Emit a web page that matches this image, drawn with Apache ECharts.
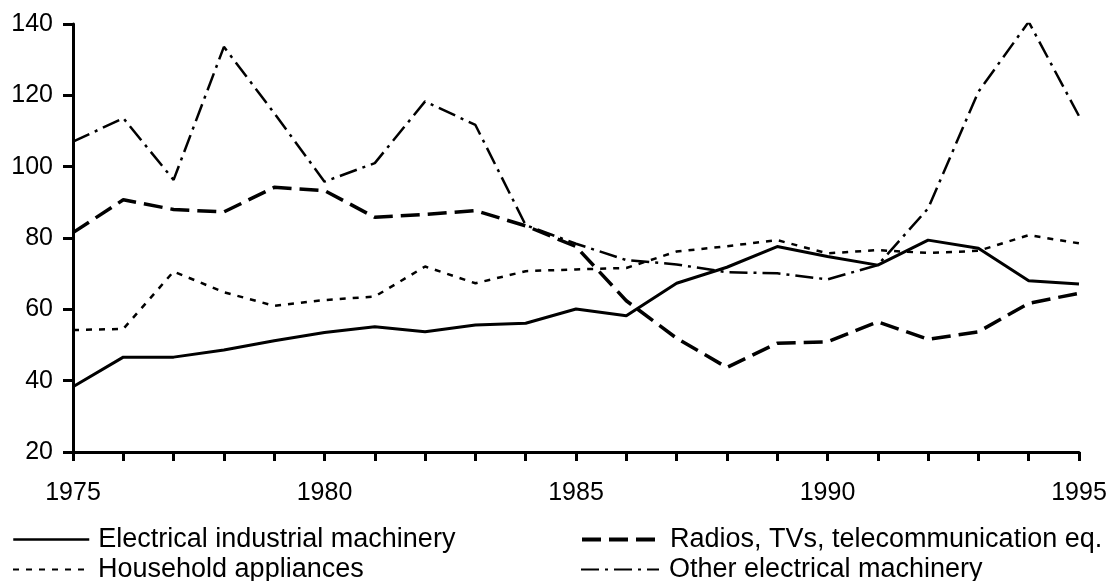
<!DOCTYPE html>
<html>
<head>
<meta charset="utf-8">
<script src="https://cdn.jsdelivr.net/npm/echarts@6/dist/echarts.min.js"></script>
<style>
  html, body { margin: 0; padding: 0; background: #fff; }
  #chart { width: 1112px; height: 581px; }
</style>
</head>
<body>
<div id="chart"></div>
<script>
// years on the x axis
const years = [1975, 1976, 1977, 1978, 1979, 1980, 1981, 1982, 1983, 1984, 1985,
  1986, 1987, 1988, 1989, 1990, 1991, 1992, 1993, 1994, 1995]

const electrical = [38.3, 46.6, 46.6, 48.6, 51.2, 53.5, 55.1, 53.7, 55.6, 56.1, 60.1,
  58.2, 67.3, 71.8, 77.6, 74.8, 72.4, 79.4, 77.1, 68.0, 67.1]
const radios = [81.5, 90.7, 88.0, 87.3, 94.2, 93.3, 85.8, 86.6, 87.7, 83.4, 77.6,
  62.4, 51.9, 43.7, 50.5, 50.9, 56.5, 51.6, 53.7, 61.7, 64.5]
const household = [54.2, 54.5, 70.6, 64.8, 61.0, 62.6, 63.6, 72.0, 67.3, 70.7, 71.2,
  71.6, 76.2, 77.7, 79.4, 75.7, 76.6, 75.8, 76.4, 80.8, 78.5]
const other = [107.0, 113.6, 96.3, 133.6, 115.0, 95.8, 101.0, 118.3, 111.7, 83.6, 78.4,
  73.8, 72.6, 70.4, 70.1, 68.4, 72.4, 88.3, 121.0, 140.6, 114.2]

const yTicks = { min: 20, max: 140, step: 20 }

const names = ['Electrical industrial machinery', 'Radios, TVs, telecommunication eq.',
  'Household appliances', 'Other electrical machinery']

function pairs(vals) {
  return years.map((y, i) => [y, vals[i]])
}

const font = 'Liberation Sans, Arial, sans-serif'

// one legend per entry so each sits where the reference has it
function legendAt(name, left, top, w, gap, lw) {
  return {
    data: [name],
    left: left,
    top: top,
    itemWidth: w,
    itemHeight: 10,
    itemStyle: { opacity: 0 },
    lineStyle: { width: lw },
    textStyle: { fontSize: 27, fontFamily: font, color: '#000', padding: [0, 0, 0, gap] }
  }
}

const chart = echarts.init(document.getElementById('chart'), null, { renderer: 'canvas' })
chart.setOption({
  animation: false,
  backgroundColor: '#fff',
  grid: { left: 73, right: 33, top: 24, bottom: 129 },
  legend: [
    legendAt(names[0], 7, 521, 76, 4, 2.5),
    legendAt(names[2], 7, 551, 76, 4, 2),
    legendAt(names[1], 575, 521, 78, 5, 4),
    legendAt(names[3], 575, 551, 78, 5, 2)
  ],
  xAxis: {
    type: 'value',
    min: 1975,
    max: 1995,
    interval: 1,
    splitLine: { show: false },
    axisLine: { lineStyle: { color: '#000', width: 3 } },
    axisTick: { length: 9, lineStyle: { color: '#000', width: 3 } },
    axisLabel: {
      margin: 29,
      color: '#000',
      fontSize: 25,
      fontFamily: font,
      formatter: v => (v % 5 === 0 ? String(v) : '')
    }
  },
  yAxis: {
    type: 'value',
    min: yTicks.min,
    max: yTicks.max,
    interval: yTicks.step,
    splitLine: { show: false },
    axisLine: { show: true, lineStyle: { color: '#000', width: 3 } },
    axisTick: { show: true, length: 10, lineStyle: { color: '#000', width: 3 } },
    axisLabel: { margin: 20, color: '#000', fontSize: 25, fontFamily: font }
  },
  series: [
    {
      name: names[0],
      type: 'line',
      symbol: 'none',
      data: pairs(electrical),
      lineStyle: { color: '#000', width: 3, type: 'solid' },
      itemStyle: { color: '#000' }
    },
    {
      name: names[1],
      type: 'line',
      symbol: 'none',
      data: pairs(radios),
      lineStyle: { color: '#000', width: 3.5, type: [19, 8] },
      itemStyle: { color: '#000' }
    },
    {
      name: names[2],
      type: 'line',
      symbol: 'none',
      data: pairs(household),
      lineStyle: { color: '#000', width: 2.5, type: [6, 7] },
      itemStyle: { color: '#000' }
    },
    {
      name: names[3],
      type: 'line',
      symbol: 'none',
      data: pairs(other),
      lineStyle: { color: '#000', width: 2.5, type: [18, 6, 3, 6] },
      itemStyle: { color: '#000' }
    }
  ]
})
</script>
</body>
</html>
